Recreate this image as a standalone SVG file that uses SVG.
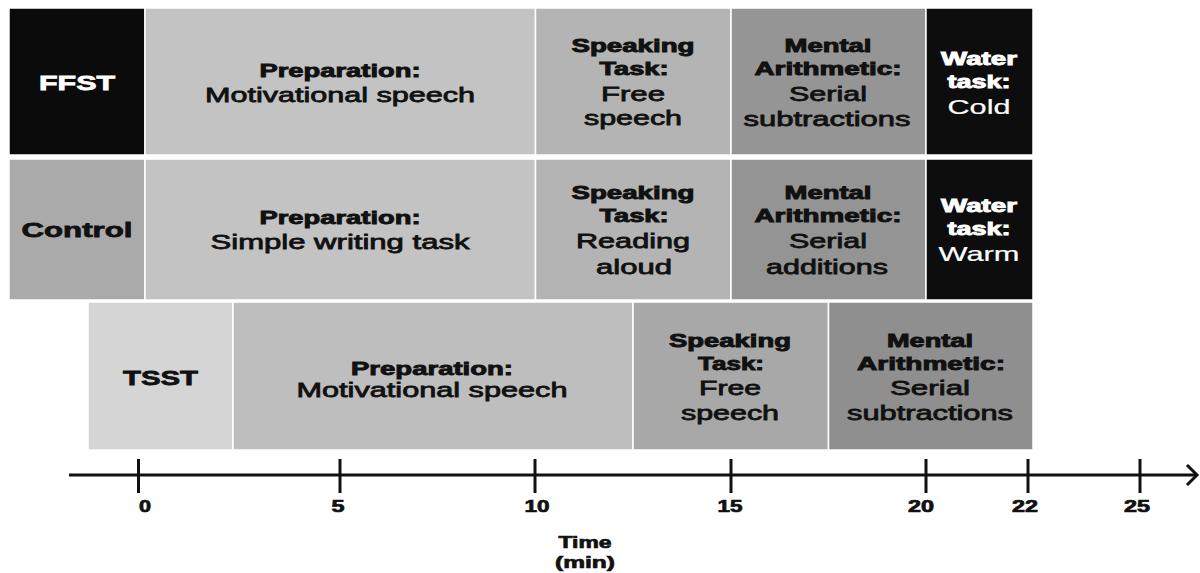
<svg xmlns="http://www.w3.org/2000/svg" width="1200" height="573" viewBox="0 0 1200 573">
<style>
text{font-family:"Liberation Sans",Arial,sans-serif;text-anchor:middle}
.h{font-size:18px;font-weight:bold;fill:#111;stroke:#111;stroke-width:0.9}
.hp{font-size:19px;font-weight:bold;fill:#111;stroke:#111;stroke-width:0.9}
.s{font-size:21px;fill:#111;stroke:#111;stroke-width:0.8}
.lb{font-size:21px;font-weight:bold;fill:#111;stroke:#111;stroke-width:0.8}
.w{fill:#fff;stroke:#fff}
.ax{font-size:16px;font-weight:bold;fill:#111;stroke:#111;stroke-width:0.7}
.box{stroke:#fff;stroke-width:1.5}
.line{stroke:#111;stroke-width:3;fill:none}
</style>
<rect width="1200" height="573" fill="#fff"/>

<!-- Row 1: FFST -->
<g id="ffst-label"><rect class="box" x="9" y="8" width="136" height="147" fill="#0b0b0b"/>
<text class="lb w" x="77" y="90" textLength="76" lengthAdjust="spacingAndGlyphs">FFST</text></g>
<g id="ffst-prep"><rect class="box" x="145" y="8" width="390.5" height="147" fill="#c3c3c3"/>
<text class="hp" x="340" y="77" textLength="161" lengthAdjust="spacingAndGlyphs">Preparation:</text>
<text class="s" x="340" y="102" textLength="270" lengthAdjust="spacingAndGlyphs">Motivational speech</text></g>
<g id="ffst-speak"><rect class="box" x="535.5" y="8" width="195.5" height="147" fill="#b4b4b4"/>
<text class="h" x="633" y="52" textLength="123" lengthAdjust="spacingAndGlyphs">Speaking</text>
<text class="h" x="634" y="75" textLength="69" lengthAdjust="spacingAndGlyphs">Task:</text>
<text class="s" x="633" y="100.5" textLength="64" lengthAdjust="spacingAndGlyphs">Free</text>
<text class="s" x="633" y="125" textLength="98" lengthAdjust="spacingAndGlyphs">speech</text></g>
<g id="ffst-math"><rect class="box" x="731" y="8" width="195" height="147" fill="#959595"/>
<text class="h" x="828" y="52" textLength="87" lengthAdjust="spacingAndGlyphs">Mental</text>
<text class="h" x="828" y="75" textLength="147" lengthAdjust="spacingAndGlyphs">Arithmetic:</text>
<text class="s" x="828" y="100.5" textLength="78" lengthAdjust="spacingAndGlyphs">Serial</text>
<text class="s" x="827" y="125.5" textLength="167" lengthAdjust="spacingAndGlyphs">subtractions</text></g>
<g id="ffst-water"><rect class="box" x="926" y="8" width="107" height="147" fill="#0d0d0d"/>
<text class="h w" x="979" y="65" textLength="76" lengthAdjust="spacingAndGlyphs">Water</text>
<text class="h w" x="979" y="87.5" textLength="63" lengthAdjust="spacingAndGlyphs">task:</text>
<text class="s w" x="979" y="114" textLength="63" lengthAdjust="spacingAndGlyphs" style="stroke-width:0.2">Cold</text></g>

<!-- Row 2: Control -->
<g id="ctrl-label"><rect class="box" x="9" y="159" width="136" height="141" fill="#aaaaaa"/>
<text class="lb" x="77" y="237" textLength="111" lengthAdjust="spacingAndGlyphs">Control</text></g>
<g id="ctrl-prep"><rect class="box" x="145" y="159" width="390.5" height="141" fill="#c3c3c3"/>
<text class="hp" x="340" y="224" textLength="161" lengthAdjust="spacingAndGlyphs">Preparation:</text>
<text class="s" x="340" y="248.5" textLength="259" lengthAdjust="spacingAndGlyphs">Simple writing task</text></g>
<g id="ctrl-speak"><rect class="box" x="535.5" y="159" width="195.5" height="141" fill="#b4b4b4"/>
<text class="h" x="633" y="199" textLength="123" lengthAdjust="spacingAndGlyphs">Speaking</text>
<text class="h" x="634" y="222" textLength="69" lengthAdjust="spacingAndGlyphs">Task:</text>
<text class="s" x="633" y="247.5" textLength="114" lengthAdjust="spacingAndGlyphs">Reading</text>
<text class="s" x="634" y="273.5" textLength="76" lengthAdjust="spacingAndGlyphs">aloud</text></g>
<g id="ctrl-math"><rect class="box" x="731" y="159" width="195" height="141" fill="#949494"/>
<text class="h" x="828" y="199" textLength="87" lengthAdjust="spacingAndGlyphs">Mental</text>
<text class="h" x="828" y="222" textLength="147" lengthAdjust="spacingAndGlyphs">Arithmetic:</text>
<text class="s" x="828" y="248" textLength="78" lengthAdjust="spacingAndGlyphs">Serial</text>
<text class="s" x="827" y="274" textLength="122" lengthAdjust="spacingAndGlyphs">additions</text></g>
<g id="ctrl-water"><rect class="box" x="926" y="159" width="107" height="141" fill="#0d0d0d"/>
<text class="h w" x="979" y="211.5" textLength="76" lengthAdjust="spacingAndGlyphs">Water</text>
<text class="h w" x="979" y="234.5" textLength="63" lengthAdjust="spacingAndGlyphs">task:</text>
<text class="s w" x="979" y="260.5" textLength="81" lengthAdjust="spacingAndGlyphs" style="stroke-width:0.2">Warm</text></g>

<!-- Row 3: TSST -->
<g id="tsst-label"><rect class="box" x="88" y="302" width="145" height="148" fill="#d5d5d5"/>
<text class="lb" x="160.5" y="384.5" textLength="75" lengthAdjust="spacingAndGlyphs">TSST</text></g>
<g id="tsst-prep"><rect class="box" x="233" y="302" width="400" height="148" fill="#bebebe"/>
<text class="hp" x="432" y="374.5" textLength="162" lengthAdjust="spacingAndGlyphs">Preparation:</text>
<text class="s" x="432" y="397" textLength="271" lengthAdjust="spacingAndGlyphs">Motivational speech</text></g>
<g id="tsst-speak"><rect class="box" x="633" y="302" width="195.5" height="148" fill="#a8a8a8"/>
<text class="h" x="730" y="347" textLength="122" lengthAdjust="spacingAndGlyphs">Speaking</text>
<text class="h" x="731" y="369.5" textLength="66" lengthAdjust="spacingAndGlyphs">Task:</text>
<text class="s" x="730" y="395" textLength="62" lengthAdjust="spacingAndGlyphs">Free</text>
<text class="s" x="730" y="420" textLength="98" lengthAdjust="spacingAndGlyphs">speech</text></g>
<g id="tsst-math"><rect class="box" x="828.5" y="302" width="204.5" height="148" fill="#8f8f8f"/>
<text class="h" x="930" y="347" textLength="86" lengthAdjust="spacingAndGlyphs">Mental</text>
<text class="h" x="931" y="369.5" textLength="148" lengthAdjust="spacingAndGlyphs">Arithmetic:</text>
<text class="s" x="930" y="395" textLength="80" lengthAdjust="spacingAndGlyphs">Serial</text>
<text class="s" x="930" y="420" textLength="166" lengthAdjust="spacingAndGlyphs">subtractions</text></g>

<!-- Time axis -->
<g id="connectors">
<line class="line" x1="69" y1="475" x2="1196" y2="475"/>
<polyline class="line" points="1187,465 1197,475 1187,485"/>
<line class="line" x1="138.5" y1="459" x2="138.5" y2="493"/>
<line class="line" x1="340" y1="459" x2="340" y2="493"/>
<line class="line" x1="535" y1="459" x2="535" y2="493"/>
<line class="line" x1="731" y1="459" x2="731" y2="493"/>
<line class="line" x1="926" y1="459" x2="926" y2="493"/>
<line class="line" x1="1028" y1="459" x2="1028" y2="493"/>
<line class="line" x1="1140" y1="459" x2="1140" y2="493"/>
</g>
<g id="axis-labels">
<text class="ax" x="145" y="511.5" textLength="12" lengthAdjust="spacingAndGlyphs">0</text>
<text class="ax" x="338" y="511.5" textLength="13" lengthAdjust="spacingAndGlyphs">5</text>
<text class="ax" x="537" y="511.5" textLength="25" lengthAdjust="spacingAndGlyphs">10</text>
<text class="ax" x="730" y="511.5" textLength="25" lengthAdjust="spacingAndGlyphs">15</text>
<text class="ax" x="921" y="511.5" textLength="26" lengthAdjust="spacingAndGlyphs">20</text>
<text class="ax" x="1025" y="511.5" textLength="26" lengthAdjust="spacingAndGlyphs">22</text>
<text class="ax" x="1137" y="511.5" textLength="26" lengthAdjust="spacingAndGlyphs">25</text>
<text class="ax" x="585" y="548" textLength="53" lengthAdjust="spacingAndGlyphs">Time</text>
<text class="ax" x="585" y="568" textLength="60" lengthAdjust="spacingAndGlyphs">(min)</text>
</g>
</svg>
